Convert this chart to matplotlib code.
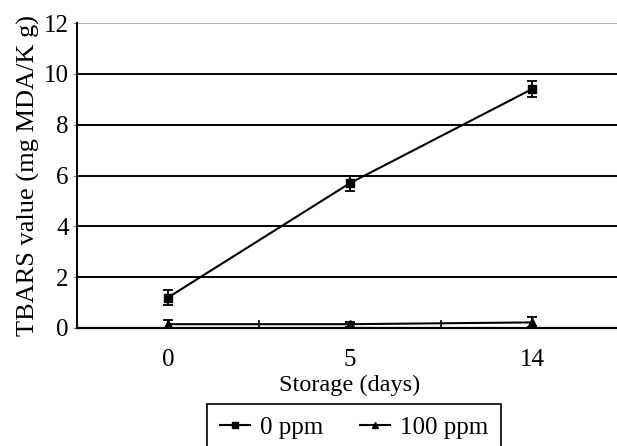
import matplotlib.pyplot as plt
from matplotlib.lines import Line2D
import numpy as np

plt.rcParams['font.family'] = ['Liberation Serif', 'DejaVu Serif']

# Dades llegides del gràfic
dies = ['0', '5', '14']
tbars_0ppm = [1.2, 5.7, 9.4]
err_0ppm = [0.3, 0.3, 0.3]
tbars_100ppm = [0.15, 0.15, 0.22]
err_100ppm = [0.15, 0.1, 0.2]
yticks = [0, 2, 4, 6, 8, 10, 12]

fig = plt.figure(figsize=(6.17, 4.46), dpi=100)
ax = fig.add_axes([77/617, 118/446, 546/617, 305/446])

pos = np.arange(len(dies))

# gridlines
for y in yticks[1:]:
    col = '#b0b0b0' if y == 12 else 'black'
    ax.axhline(y, color=col, lw=1.4, zorder=1)

ax.errorbar(pos, tbars_0ppm, yerr=err_0ppm, color='black', marker='s', ms=5.5,
            lw=1.5, capsize=3.5, elinewidth=1.3, capthick=1.3, zorder=3)
ax.errorbar(pos, tbars_100ppm, yerr=err_100ppm, color='black', marker='^', ms=5.5,
            lw=1.5, capsize=3.5, elinewidth=1.3, capthick=1.3, zorder=3)

ax.set_xlim(-0.5, 2.5)
ax.set_ylim(0, 12)
ax.set_yticks(yticks)
ax.tick_params(axis='y', labelsize=18, length=3, width=0.8, color='#888888', pad=3)

ax.set_xticks([0.5, 1.5])
ax.set_xticklabels([])
ax.tick_params(axis='x', which='major', direction='in', length=6, width=1.2)
ax.set_xticks(pos, minor=True)
ax.set_xticklabels(dies, minor=True)
ax.tick_params(axis='x', which='minor', length=0, labelsize=18, pad=15)

for s in ['top', 'right']:
    ax.spines[s].set_visible(False)
ax.spines['left'].set_linewidth(1.4)
ax.spines['bottom'].set_linewidth(1.6)

ax.set_ylabel('TBARS value (mg MDA/K g)', fontsize=19, labelpad=3)
ax.set_xlabel('Storage (days)', fontsize=17.5, labelpad=3)

handles = [Line2D([], [], color='black', marker='s', ms=4.5, lw=1.5),
           Line2D([], [], color='black', marker='^', ms=4.5, lw=1.5)]
leg = fig.legend(handles, ['0 ppm', '100 ppm'], loc='upper left',
                 bbox_to_anchor=(207/617, 1 - 404/446), ncol=2, fontsize=18,
                 frameon=True, fancybox=False, edgecolor='black', framealpha=1,
                 handlelength=1.2, handletextpad=0.4, columnspacing=1.5,
                 borderpad=0.5, borderaxespad=0)
leg.get_frame().set_linewidth(1.2)

fig.savefig('out.png', dpi=100)
